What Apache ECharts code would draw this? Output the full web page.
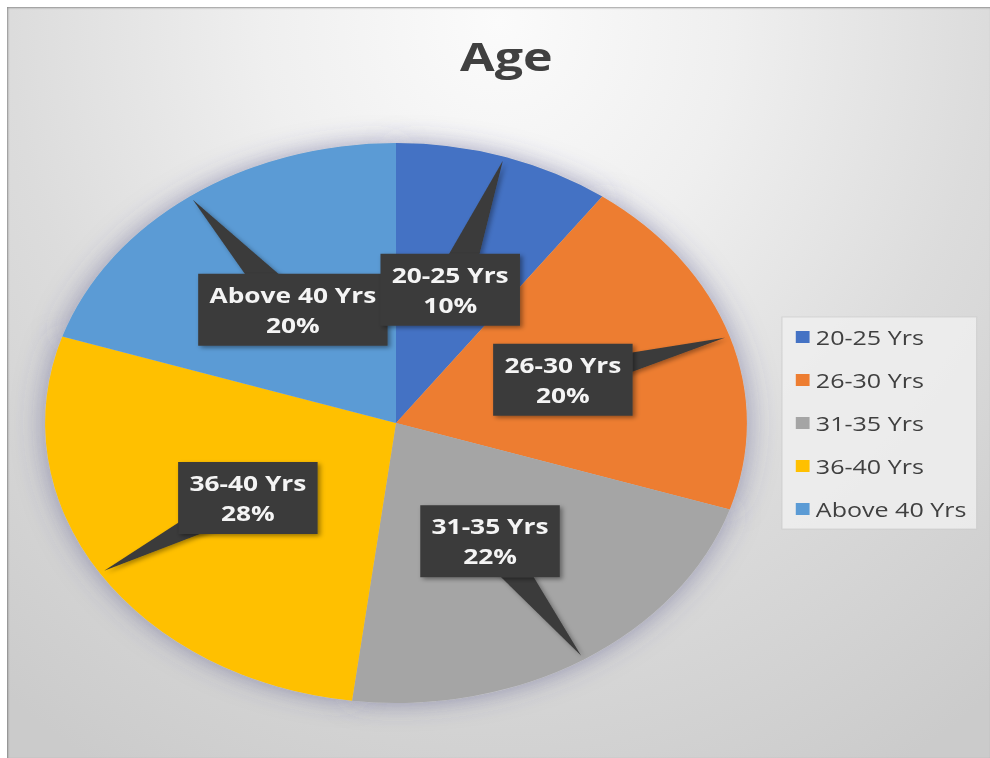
<!DOCTYPE html>
<html><head><meta charset="utf-8">
<script src="https://cdn.jsdelivr.net/npm/echarts@6/dist/echarts.min.js"></script>
<style>
html,body{margin:0;padding:0;background:#fff;width:990px;height:758px;overflow:hidden;}
#bg{position:absolute;left:7px;top:7px;right:0;bottom:0;
  background:radial-gradient(ellipse 80% 115% at 50% 2%, #fbfbfb 0%, #efefef 30%, #dcdcdc 62%, #cbcbcb 100%);
  box-shadow: inset 1px 1px 2px rgba(0,0,0,.35);}
#chart{position:absolute;left:0;top:0;width:790px;height:758px;transform:scaleX(1.2532);transform-origin:0 0;}
</style></head>
<body><div id="bg"></div><div id="chart"></div>
<script>
// ---- data ----
const titleText = 'Age';
const categories = ['20-25 Yrs', '26-30 Yrs', '31-35 Yrs', '36-40 Yrs', 'Above 40 Yrs'];
const values = [10, 20, 22, 28, 20];
const colors = ['#4472C4', '#ED7D31', '#A5A5A5', '#FFC000', '#5B9BD5'];

// ---- layout (unstretched coordinates) ----
const CX = 316, CY = 423, R = 280;
const FONT = '"Open Sans", "Noto Sans", sans-serif';
const total = values.reduce((a, b) => a + b, 0);

const chart = echarts.init(document.getElementById('chart'), null, {renderer: 'svg'});

const option = {
  animation: false,
  title: {
    text: titleText, left: 399, top: 31, textAlign: 'center',
    textStyle: {fontFamily: FONT, fontWeight: 'bold', fontSize: 40, color: '#404040'}
  },
  legend: {
    orient: 'vertical', left: 624, top: 317,
    data: categories,
    icon: 'rect', itemWidth: 11, itemHeight: 12, itemGap: 23,
    padding: [10, 8, 10, 11],
    backgroundColor: 'rgba(238,238,238,0.85)',
    borderColor: 'rgba(200,200,200,0.6)', borderWidth: 1,
    textStyle: {fontFamily: FONT, fontSize: 20, color: '#404040'}
  },
  series: [
    {
      type: 'pie', z: 2, silent: true,
      center: [CX, CY], radius: R, startAngle: 90, clockwise: true,
      label: {show: false}, labelLine: {show: false},
      data: categories.map((n, i) => ({name: n, value: values[i], itemStyle: {color: colors[i]}}))
    },
    {
      // soft shadow under the pie
      type: 'pie', z: 1, silent: true,
      center: [CX, CY], radius: R, startAngle: 90, clockwise: true,
      label: {show: false}, labelLine: {show: false},
      itemStyle: {color: '#c8c8d0', shadowBlur: 24, shadowColor: 'rgba(70,70,130,0.5)'},
      data: values.map(v => ({value: v}))
    },
    {
      type: 'custom', coordinateSystem: 'none', z: 3, silent: true,
      data: values,
      renderItem: function (params, api) {
        const i = params.dataIndex;
        const v = api.value(0);
        let before = 0;
        for (let k = 0; k < i; k++) before += values[k];
        const mid = (before + v / 2) / total * Math.PI * 2;
        const dx = Math.sin(mid), dy = -Math.cos(mid);
        const lx = CX + dx * R * 0.5, ly = CY + dy * R * 0.5;
        const tx = CX + dx * R * 0.985, ty = CY + dy * R * 0.985;
        const px = -dy, py = dx, hw = 16;
        const pct = Math.round(v / total * 100);
        return {
          type: 'group',
          children: [
            {
              type: 'polygon', z2: 0,
              shape: {points: [[lx + px * hw, ly + py * hw], [lx - px * hw, ly - py * hw], [tx, ty]]},
              style: {fill: '#3b3b3b', shadowBlur: 4, shadowOffsetX: 2, shadowOffsetY: 2, shadowColor: 'rgba(0,0,0,0.35)'}
            },
            {
              type: 'text', x: lx, y: ly, z2: 20 - i,
              style: {
                text: categories[i] + '\n' + pct + '%',
                align: 'center', verticalAlign: 'middle',
                fontFamily: FONT, fontWeight: 'bold', fontSize: 21, lineHeight: 30,
                fill: '#f4f4f4',
                backgroundColor: '#3b3b3b',
                padding: [6, 9, 6, 9],
                shadowBlur: 4, shadowOffsetX: 2, shadowOffsetY: 2, shadowColor: 'rgba(0,0,0,0.4)'
              }
            }
          ]
        };
      }
    }
  ]
};
chart.setOption(option);
</script>
</body></html>
